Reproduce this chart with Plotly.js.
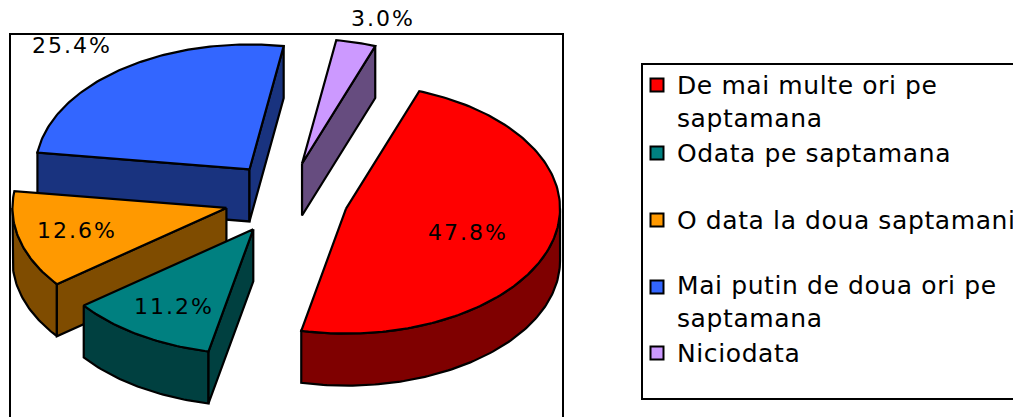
<!DOCTYPE html>
<html><head><meta charset="utf-8">
<script src="https://cdn.plot.ly/plotly-3.0.1.min.js"></script>
<style>
html,body{margin:0;padding:0;background:#fff;overflow:hidden}
</style></head><body><div id="chart" style="width:1013px;height:417px"></div>
<script>
// Data
const categories = ["De mai multe ori pe<br>saptamana","Odata pe saptamana","O data la doua saptamani","Mai putin de doua ori pe<br>saptamana","Niciodata"];
const shares = [47.8, 11.2, 12.6, 25.4, 3.0];
const topColors = ["#FF0000","#008080","#FF9900","#3366FF","#CC99FF"];
const sideColors = ["#7F0000","#004040","#7F4C00","#19337F","#664C7F"];
// Layout of the tilted pie
const cx = 286.4, cy = 198.6, rx = 214, ry = 125, depth = 52, startAngle = 20, explode = 0.29;
const paintOrder = [4,3,2,1,0];
const labelPos = [[468,232],[174,306],[77,230],[72,45],[383,18]];
const legendY = [85,153,220,287,353];
const legendTextY = [102,153,220,302,353];

const rad = d => d*Math.PI/180;
const pt = (c,a) => [c[0]+rx*Math.sin(rad(a)), c[1]-ry*Math.cos(rad(a))];
const total = shares.reduce((a,b)=>a+b,0);
let acc = startAngle;
const slices = shares.map(v=>{const a0=acc; acc+=v/total*360; return [a0,acc];});
const traces = [];
function poly(pts,fill){
  const xs=pts.map(p=>p[0]), ys=pts.map(p=>p[1]);
  xs.push(xs[0]); ys.push(ys[0]);
  traces.push({type:'scatter',mode:'lines',x:xs,y:ys,fill:'toself',fillcolor:fill,
    line:{color:'#000',width:2.2,shape:'linear'},hoverinfo:'skip',showlegend:false});
}
const down = p => [p[0],p[1]+depth];
function arc(c,a0,a1){const out=[];const n=Math.max(2,Math.ceil((a1-a0)));for(let i=0;i<=n;i++)out.push(pt(c,a0+(a1-a0)*i/n));return out;}
paintOrder.forEach(i=>{
  const [a0,a1]=slices[i], mid=(a0+a1)/2;
  const m=pt([0,0],mid);
  const apex=[cx+explode*m[0],cy+explode*m[1]];
  const S=pt(apex,a0),E=pt(apex,a1);
  // rim: the part of the arc facing the viewer
  const r0=Math.max(a0,90), r1=Math.min(a1,270);
  if(r1>r0){const top=arc(apex,r0,r1); poly(top.concat(top.slice().reverse().map(down)),sideColors[i]);}
  if(S[0]<apex[0]) poly([apex,S,down(S),down(apex)],sideColors[i]);
  if(E[0]>apex[0]) poly([apex,E,down(E),down(apex)],sideColors[i]);
  poly([apex].concat(arc(apex,a0,a1)),topColors[i]);
});
// legend swatches
traces.push({type:'scatter',mode:'markers',x:legendY.map(()=>657),y:legendY,
  marker:{symbol:'square',size:13,color:topColors,line:{color:'#000',width:2}},hoverinfo:'skip',showlegend:false});

const annotations=[];
shares.forEach((v,i)=>annotations.push({x:labelPos[i][0],y:labelPos[i][1],xref:'x',yref:'y',
  text:'<span style="letter-spacing:2px">'+v.toFixed(1)+'%</span>',showarrow:false,
  xanchor:'center',yanchor:'middle',font:{family:'DejaVu Sans',size:22,color:'#000'}}));
categories.forEach((c,i)=>annotations.push({x:675,y:legendTextY[i],xref:'x',yref:'y',
  text:c.split('<br>').map(s=>'<span style="letter-spacing:0.6px">'+s+'</span>').join('<br>'),showarrow:false,align:'left',
  xanchor:'left',yanchor:'middle',font:{family:'DejaVu Sans',size:25,color:'#000'}}));

Plotly.newPlot('chart',traces,{
  width:1013,height:417,margin:{l:0,r:0,t:0,b:0},paper_bgcolor:'#fff',plot_bgcolor:'#fff',showlegend:false,
  xaxis:{range:[0,1013],visible:false,fixedrange:true},
  yaxis:{range:[417,0],visible:false,fixedrange:true},
  shapes:[
    {type:'rect',layer:'below',x0:10,x1:563,y0:34,y1:425,line:{color:'#000',width:2}},
    {type:'rect',layer:'below',x0:642,x1:1030,y0:64,y1:399,line:{color:'#000',width:2}}
  ],
  annotations:annotations
},{staticPlot:true,displayModeBar:false});
</script></body></html>
